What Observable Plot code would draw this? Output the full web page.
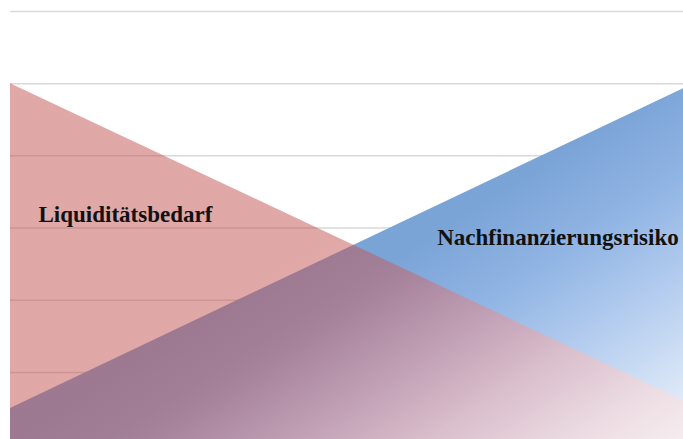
<!DOCTYPE html>
<html>
<head>
<meta charset="utf-8">
<script src="https://cdn.jsdelivr.net/npm/d3@7"></script>
<script src="https://cdn.jsdelivr.net/npm/@observablehq/plot@0.6"></script>
<style>
  html, body { margin: 0; padding: 0; background: #fff; }
  #chart svg { display: block; }
</style>
</head>
<body>
<div id="chart"></div>
<script>
// Data
const positions = [0, 1];                       // left edge, right edge of the chart
const liquiditaetsbedarf = [5.0, 0.61];          // falling series (red)
const nachfinanzierungsrisiko = [0.50, 4.93];    // rising series (blue)
const gridTicks = [1, 2, 3, 4, 5, 6];
const labelNames = ["Liquiditätsbedarf", "Nachfinanzierungsrisiko"];
const labelX = [0.0416, 0.634];
const labelY = [3.19, 2.87];

const yMin = 0.07, yMax = 6;

const redData = positions.map((x, i) => ({x, y: liquiditaetsbedarf[i]}));
const blueData = positions.map((x, i) => ({x, y: nachfinanzierungsrisiko[i]}));
const labels = labelNames.map((t, i) => ({t, x: labelX[i], y: labelY[i]}));

const plot = Plot.plot({
  width: 683,
  height: 439,
  marginLeft: 10,
  marginRight: 0,
  marginTop: 11,
  marginBottom: 0,
  x: {domain: [0, 1], axis: null},
  y: {domain: [yMin, yMax], axis: null},
  style: {background: "#fff", overflow: "hidden"},
  marks: [
    Plot.ruleY(gridTicks, {stroke: "#d9d9d9", strokeWidth: 1.5}),
    Plot.areaY(blueData, {x: "x", y: "y", y1: yMin, fill: "url(#blueGrad)"}),
    Plot.areaY(redData, {x: "x", y: "y", y1: yMin, fill: "url(#redGrad)"}),
    Plot.text(labels, {x: "x", y: "y", text: "t", textAnchor: "start",
      fontFamily: "Liberation Serif, Times New Roman, serif", fontWeight: "bold",
      fontSize: 23, fill: "#111"})
  ]
});

// gradient definitions (diagonal fade towards the lower right)
const ns = "http://www.w3.org/2000/svg";
const svg = plot.tagName.toLowerCase() === "svg" ? plot : plot.querySelector("svg");
const defs = document.createElementNS(ns, "defs");
function grad(id, stops) {
  const g = document.createElementNS(ns, "linearGradient");
  g.setAttribute("id", id);
  g.setAttribute("gradientUnits", "userSpaceOnUse");
  g.setAttribute("x1", 0); g.setAttribute("y1", 0);
  g.setAttribute("x2", 545); g.setAttribute("y2", 839);
  for (const [o, c, a] of stops) {
    const s = document.createElementNS(ns, "stop");
    s.setAttribute("offset", o);
    s.setAttribute("stop-color", c);
    s.setAttribute("stop-opacity", a);
    g.appendChild(s);
  }
  defs.appendChild(g);
}
grad("blueGrad", [
  [0, "rgb(122,163,214)", 1],
  [0.43, "rgb(122,163,214)", 1],
  [0.52, "rgb(145,181,228)", 1],
  [0.60, "rgb(178,203,238)", 1],
  [0.70, "rgb(220,232,248)", 1],
  [0.78, "rgb(245,248,252)", 1],
  [1, "rgb(255,255,255)", 1]
]);
grad("redGrad", [
  [0, "rgb(192,80,77)", 0.5],
  [0.38, "rgb(192,80,77)", 0.5],
  [0.45, "rgb(205,95,93)", 0.5],
  [0.52, "rgb(230,135,135)", 0.53],
  [0.60, "rgb(245,180,178)", 0.58],
  [0.68, "rgb(252,215,213)", 0.6],
  [0.76, "rgb(254,240,238)", 0.6],
  [1, "rgb(255,250,250)", 0.6]
]);
svg.insertBefore(defs, svg.firstChild);

document.getElementById("chart").appendChild(plot);
</script>
</body>
</html>
